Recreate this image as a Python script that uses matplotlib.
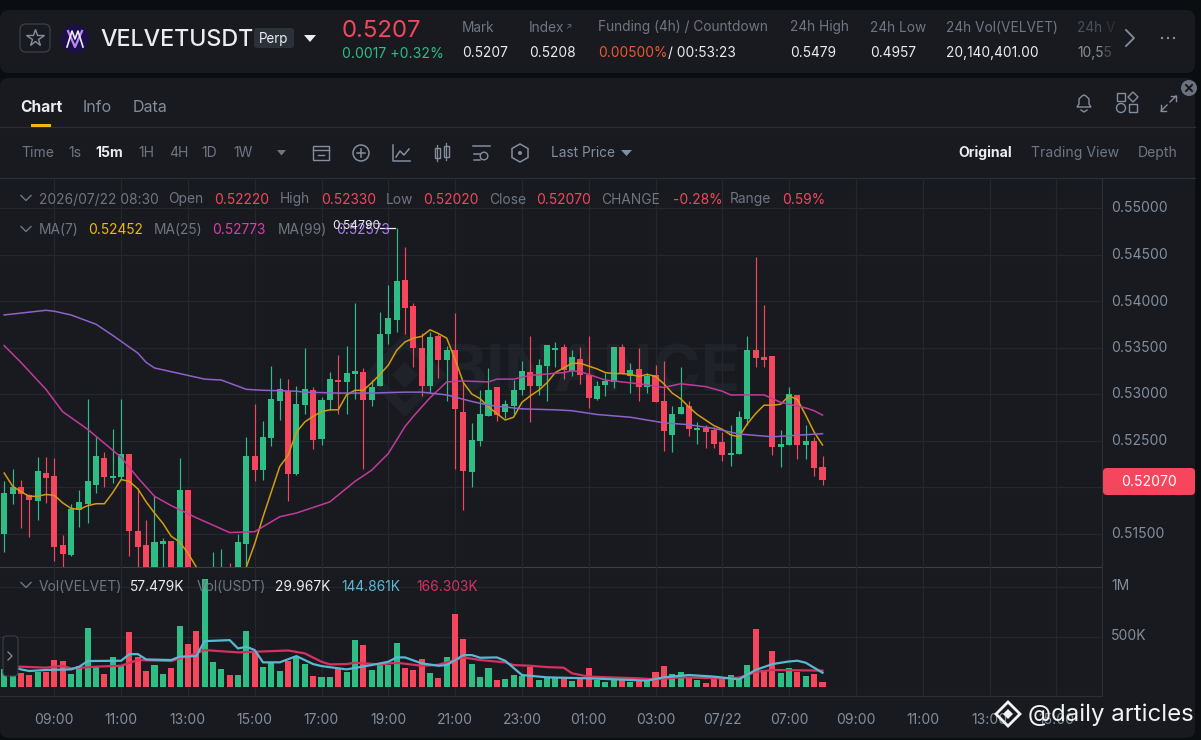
import matplotlib
matplotlib.use("Agg")
import matplotlib.pyplot as plt
from matplotlib.patches import FancyBboxPatch, Circle, Polygon, Rectangle
from matplotlib.ticker import FuncFormatter
from matplotlib.transforms import ScaledTranslation

plt.rcParams['font.family'] = ['Inter', 'DejaVu Sans']

opens = [.5149,.5192,.5200,.5191,.5185,.5215,.5212,.5138,.5127,.5175,.5182,.5202,.5231,.5210,.5211,.5236,.5153,.5138,.5105,.5139,
         .5142,.5105,.5197,.5100,.5080,.5085,.5095,.5105,.5105,.5139,.5233,.5218,.5253,.5293,.5303,.5214,.5288,.5304,.5252,.5294,
         .5315,.5313,.5322,.5324,.5294,.5309,.5364,.5380,.5423,.5395,.5350,.5309,.5362,.5337,.5347,.5281,.5216,.5250,.5276,.5307,
         .5281,.5287,.5304,.5324,.5309,.5330,.5347,.5350,.5325,.5338,.5320,.5295,.5310,.5313,.5351,.5319,.5327,.5307,.5320,.5292,
         .5256,.5278,.5287,.5261,.5263,.5261,.5248,.5234,.5235,.5273,.5347,.5340,.5341,.5243,.5245,.5299,.5245,.5250,.5222]
highs = [.5206,.5219,.5208,.5192,.5232,.5232,.5231,.5148,.5182,.5197,.5295,.5254,.5238,.5262,.5295,.5236,.5199,.5165,.5190,.5145,
         .5142,.5231,.5197,.5105,.5100,.5130,.5133,.5118,.5150,.5254,.5289,.5271,.5330,.5317,.5316,.5309,.5350,.5307,.5297,.5324,
         .5342,.5352,.5398,.5328,.5315,.5388,.5417,.5478,.5458,.5398,.5366,.5367,.5365,.5352,.5387,.5313,.5269,.5304,.5328,.5308,
         .5294,.5315,.5335,.5362,.5338,.5353,.5356,.5354,.5347,.5351,.5362,.5314,.5323,.5351,.5354,.5333,.5349,.5323,.5331,.5335,
         .5287,.5329,.5292,.5270,.5267,.5265,.5259,.5267,.5282,.5362,.5447,.5396,.5341,.5261,.5308,.5299,.5267,.5254,.5233]
lows =  [.5130,.5182,.5156,.5146,.5165,.5183,.5120,.5114,.5126,.5157,.5161,.5194,.5200,.5204,.5209,.5126,.5110,.5100,.5100,.5105,
         .5100,.5100,.5095,.5075,.5070,.5080,.5090,.5095,.5100,.5116,.5206,.5208,.5244,.5272,.5185,.5213,.5279,.5241,.5245,.5283,
         .5279,.5279,.5295,.5219,.5287,.5309,.5354,.5367,.5364,.5329,.5298,.5301,.5317,.5293,.5219,.5175,.5200,.5244,.5276,.5271,
         .5274,.5279,.5299,.5270,.5299,.5292,.5329,.5316,.5319,.5311,.5285,.5294,.5298,.5306,.5322,.5301,.5293,.5301,.5291,.5239,
         .5238,.5278,.5255,.5246,.5242,.5242,.5228,.5223,.5235,.5267,.5329,.5329,.5234,.5221,.5245,.5230,.5230,.5212,.5202]
closes =[.5194,.5200,.5192,.5186,.5217,.5210,.5135,.5128,.5176,.5184,.5206,.5233,.5211,.5212,.5235,.5153,.5135,.5105,.5141,.5142,
         .5105,.5197,.5100,.5080,.5085,.5100,.5105,.5100,.5141,.5233,.5218,.5254,.5295,.5305,.5214,.5289,.5305,.5251,.5294,.5316,
         .5313,.5323,.5325,.5294,.5308,.5365,.5382,.5422,.5393,.5349,.5309,.5361,.5337,.5347,.5284,.5217,.5251,.5278,.5304,.5277,
         .5289,.5304,.5325,.5309,.5331,.5353,.5349,.5326,.5340,.5320,.5296,.5309,.5314,.5351,.5322,.5326,.5308,.5319,.5291,.5260,
         .5279,.5286,.5262,.5263,.5259,.5246,.5234,.5237,.5275,.5347,.5339,.5337,.5243,.5246,.5300,.5245,.5249,.5220,.5207]
volume = [178,122,145,119,155,155,271,261,132,211,591,205,132,304,211,551,304,162,221,132,
          195,614,429,558,1073,251,182,119,122,564,353,205,244,165,264,297,234,109,99,99,
          178,149,475,419,168,221,221,442,191,172,277,145,96,297,733,479,228,99,188,73,
          83,119,112,205,73,96,96,89,66,83,191,73,56,79,79,56,66,63,152,211,
          135,152,99,73,40,92,99,122,99,218,581,172,360,145,188,155,115,129,57]

ma7 = [.5215,.5201,.5195,.5190,.5190,.5192,.5191,.5183,.5177,.5176,.5180,.5182,.5182,.5194,.5208,.5206,.5198,.5184,.5172,.5161,
       .5147,.5141,.5129,.5114,.5100,.5090,.5085,.5085,.5092,.5114,.5139,.5168,.5195,.5222,.5234,.5259,.5270,.5276,.5281,.5283,
       .5283,.5299,.5304,.5304,.5312,.5321,.5331,.5347,.5356,.5360,.5362,.5369,.5365,.5360,.5337,.5312,.5300,.5295,.5286,.5279,
       .5272,.5275,.5291,.5298,.5304,.5312,.5323,.5328,.5333,.5333,.5330,.5327,.5323,.5322,.5322,.5321,.5319,.5321,.5319,.5311,
       .5301,.5295,.5286,.5278,.5272,.5266,.5262,.5256,.5254,.5268,.5279,.5288,.5288,.5289,.5298,.5294,.5277,.5259,.52452]
ma25_idx = [0,2,5,7,10,14,16,18,20,23,27,30,33,35,36,39,42,44,46,48,49,51,53,55,58,59,61,63,67,68,69,72,74,76,79,81,84,86,87,89,91,93,96,97,98]
ma25 = [.5352,.5334,.5305,.5281,.5262,.5232,.5210,.5190,.5180,.5167,.5151,.5152,.5168,.5172,.5175,.5184,.5206,.5218,.5236,.5265,.5276,.5296,.5313,.5314,.5313,.5316,.5316,.5320,.5323,.5325,.5324,.5315,.5313,.5311,.5307,.5311,.5308,.5303,.5299,.5299,.5299,.5291,.5285,.5282,.52773]
ma99_idx = [0,5,6,8,11,13,16,17,18,21,24,26,29,31,35,36,40,44,48,50,53,56,58,62,66,68,71,75,79,82,85,88,92,98]
ma99 = [.5385,.5390,.5389,.5385,.5375,.5363,.5344,.5334,.5328,.5322,.5316,.5315,.5305,.5304,.5303,.5302,.5301,.5301,.5302,.5302,.5299,.5292,.5288,.5284,.5283,.5282,.5278,.5275,.5269,.5267,.5263,.5257,.5254,.52573]
vma1_idx = [0,2,3,5,8,9,10,14,15,16,17,20,21,23,24,27,28,29,30,31,33,35,37,38,41,44,46,47,48,50,52,53,55,56,57,59,60,62,65,70,75,77,79,82,85,88,90,92,94,95,96,98]
vma1 = [231,178,162,172,178,205,261,264,330,330,277,271,304,310,459,469,386,403,370,248,248,310,231,211,178,221,254,297,297,238,214,221,320,320,294,297,264,122,99,89,73,66,99,122,106,79,172,231,257,264,244,145]
vma2_idx = [0,2,5,7,8,11,14,16,20,23,24,28,34,36,38,39,41,42,45,47,50,52,55,57,60,61,63,65,67,68,70,76,78,81,86,88,90,92,98]
vma2 = [205,205,195,214,188,205,214,271,261,337,370,347,366,337,254,228,231,244,228,244,214,224,297,271,248,221,214,201,195,139,106,89,79,99,89,96,152,172,166]

price_ticks = [.515,.525,.530,.535,.540,.545,.550]
vol_ticks = [500, 1000]
vol_tick_labels = ['500K', '1M']
time_idx = [6,14,22,30,38,46,54,62,70,78,86,94,102,110,118,126]
time_labels = ['09:00','11:00','13:00','15:00','17:00','19:00','21:00','23:00','01:00','03:00','07/22','07:00','09:00','11:00','13:00','15:00']

BG = '#0b0e11'; CARD = '#181a20'; GRID = '#23272e'; LINE = '#2b3038'
GREEN = '#2ebd85'; RED = '#f6465d'; DIM = '#6f7682'; MID = '#848e9c'; WHITE = '#eaecef'
W, H = 1201, 740

fig = plt.figure(figsize=(W/100, H/100), dpi=100, facecolor=BG)

def axpx(x0, y0, x1, y1, **kw):
    return fig.add_axes([x0/W, 1-y1/H, (x1-x0)/W, (y1-y0)/H], **kw)

bg = axpx(0, 0, W, H, zorder=0)
bg.set_xlim(0, W); bg.set_ylim(H, 0); bg.axis('off')
for box in [(0, 10, 1195, 63), (0, 78, 1195, 660)]:
    bg.add_patch(FancyBboxPatch((box[0], box[1]), box[2], box[3], boxstyle='round,pad=0,rounding_size=9', fc=CARD, ec='none'))
bg.plot([0, 1195], [127, 127], color=LINE, lw=0.9)
bg.plot([0, 1195], [177.5, 177.5], color=LINE, lw=0.9)

def p_of(y): return .52 + (487-y)/9300
def i_of(x): return (x-4.2)/8.35
def v_of(y): return (687.3-y)/0.1006

def lift(axis_obj, px):
    for lb in axis_obj.get_ticklabels():
        lb.set_transform(lb.get_transform() + ScaledTranslation(0, px/100, fig.dpi_scale_trans))

ax = axpx(0, 178, 1102, 567, zorder=1)
ax.patch.set_alpha(0)
ax.set_xlim(i_of(0), i_of(1102)); ax.set_ylim(p_of(567), p_of(178))
ax.text(i_of(592), p_of(375), 'BINANCE', color='#1f2329', fontsize=47, fontweight='bold', ha='center', va='center', zorder=0)
ax.add_patch(Polygon([(i_of(405), p_of(340)), (i_of(440), p_of(375)), (i_of(405), p_of(410)), (i_of(370), p_of(375))], fc='none', ec='#1f2329', lw=7, zorder=0))
ax.add_patch(Polygon([(i_of(405), p_of(362)), (i_of(418), p_of(375)), (i_of(405), p_of(388)), (i_of(392), p_of(375))], fc='#1f2329', ec='none', zorder=0))

xs = list(range(len(opens)))
cols = [GREEN if c >= o else RED for o, c in zip(opens, closes)]
ax.vlines(xs, lows, highs, colors=cols, lw=0.85, zorder=2)
ax.bar(xs, [abs(c-o) for o, c in zip(opens, closes)], bottom=[min(o, c) for o, c in zip(opens, closes)],
       width=0.72, color=cols, zorder=3, linewidth=0)
ax.plot(xs, ma7, color='#d29d0e', lw=1.1, zorder=4)
ax.plot(ma25_idx, ma25, color='#c23a9a', lw=1.1, zorder=4)
ax.plot(ma99_idx, ma99, color='#8f62c9', lw=1.1, zorder=4)
ax.set_yticks(price_ticks)
ax.yaxis.tick_right()
ax.yaxis.set_major_formatter(FuncFormatter(lambda v, _: f'{v:.5f}'))
ax.tick_params(axis='y', length=0, pad=6.5, labelcolor=MID, labelsize=10)
ax.set_xticks(time_idx); ax.tick_params(axis='x', length=0, labelbottom=False)
ax.grid(True, color=GRID, lw=0.9, zorder=0)
ax.set_axisbelow(True)
ax.hlines([.520], i_of(0), i_of(1102), color=GRID, lw=0.9, zorder=0)
for s in ['top', 'left']:
    ax.spines[s].set_visible(False)
ax.spines['right'].set_color(LINE)
ax.spines['bottom'].set_color('#39404a')
lift(ax.yaxis, 1)

vx = axpx(0, 567, 1102, 696, zorder=1)
vx.patch.set_alpha(0)
vx.set_xlim(i_of(0), i_of(1102)); vx.set_ylim(v_of(696), v_of(567))
vx.bar(xs, volume, width=0.72, color=cols, linewidth=0, zorder=2)
vx.plot(vma2_idx, vma2, color='#d6325f', lw=1.6, zorder=3)
vx.plot(vma1_idx, vma1, color='#5ab9d2', lw=1.6, zorder=4)
vx.set_yticks(vol_ticks)
vx.set_yticklabels(vol_tick_labels)
vx.yaxis.tick_right()
vx.tick_params(axis='y', length=0, pad=6.5, labelcolor=MID, labelsize=10)
vx.set_xticks(time_idx); vx.set_xticklabels(time_labels)
vx.tick_params(axis='x', length=0, pad=12, labelcolor=MID, labelsize=10)
vx.grid(True, color=GRID, lw=0.9, zorder=0)
vx.set_axisbelow(True)
for s in ['top', 'left']:
    vx.spines[s].set_visible(False)
for s in ['right', 'bottom']:
    vx.spines[s].set_color(LINE)
lift(vx.yaxis, 2)

ov = axpx(0, 0, W, H, zorder=5)
ov.set_xlim(0, W); ov.set_ylim(H, 0); ov.axis('off'); ov.patch.set_alpha(0)

def t(x, y, s, c=DIM, px=14, **kw):
    kw.setdefault('ha', 'left'); kw.setdefault('va', 'center')
    ov.text(x, y, s, color=c, fontsize=px*0.72, **kw)

def chev(x, y, s=5, c=DIM):
    ov.plot([x-s, x, x+s], [y-s/2, y+s/2, y-s/2], color=c, lw=1.0)

# header
ov.add_patch(FancyBboxPatch((20, 24), 30, 28, boxstyle='round,pad=0,rounding_size=6', fc='none', ec='#3a404a', lw=0.9))
ov.plot(35, 38, marker='*', ms=13, mfc='none', mec=MID, mew=1.0)
ov.add_patch(Circle((75, 39), 14, fc='#1d0f4a', ec='none'))
ov.plot([68, 75, 82], [31, 47, 31], color='#b48cf0', lw=1.6)
ov.plot([67, 72, 75, 78, 83], [47, 31, 39, 31, 47], color='#f0e8ff', lw=1.2)
t(100, 40, 'VELVETUSDT', WHITE, 23.3, fontweight='medium')
ov.add_patch(FancyBboxPatch((254, 28), 40, 20, boxstyle='round,pad=0,rounding_size=3', fc='#2b3139', ec='none'))
t(274, 39, 'Perp', WHITE, 13.5, ha='center')
ov.add_patch(Polygon([(304, 35), (316, 35), (310, 42)], fc=WHITE, ec='none'))
t(342, 31, '0.5207', RED, 24)
t(342, 54.5, '0.0017 +0.32%', GREEN, 14)
for x, a, b in [(462, 'Mark', '0.5207'), (529, 'Index', '0.5208'), (790, '24h High', '0.5479'), (870, '24h Low', '0.4957'), (946, '24h Vol(VELVET)', '20,140,401.00')]:
    t(x, 27.5, a, DIM, 13.7)
    t(x, 53, b, WHITE, 13.7)
t(565, 26.5, '↗', DIM, 8)
t(598, 27.5, 'Funding (4h) / Countdown', DIM, 13.7)
t(598, 53, '0.00500%', '#f0562f', 13.7)
t(668, 53, '/ 00:53:23', WHITE, 13.7)
t(1077, 27.5, '24h V', '#4a505a', 13.7)
t(1077, 53, '10,55', '#8a8f96', 13.7)
ov.add_patch(Rectangle((1103, 15), 14, 52, fc=CARD, ec='none', zorder=6, alpha=0.55))
ov.plot([1126, 1134, 1126], [30, 38, 46], color=MID, lw=1.3)
for dx in [1162, 1168, 1174]:
    ov.add_patch(Circle((dx, 38), 1.2, fc=MID, ec='none'))

# tabs
t(20, 107, 'Chart', WHITE, 15.5, fontweight='bold')
t(83, 107, 'Info', MID, 16)
t(133, 107, 'Data', MID, 16)
ov.add_patch(Rectangle((31, 124), 20, 3, fc='#f0b90b', ec='none'))
# right icons
ov.add_patch(Polygon([(1077, 107), (1079, 104), (1079, 99), (1082, 96), (1084, 95), (1086, 96), (1089, 99), (1089, 104), (1091, 107)], fc='none', ec=MID, lw=1))
ov.plot([1081, 1084, 1087], [110, 112, 110], color=MID, lw=1)
ov.add_patch(Rectangle((1117, 93), 8, 8, fc='none', ec=MID, lw=1))
ov.add_patch(Polygon([(1133, 92), (1138, 97), (1133, 102), (1128, 97)], fc='none', ec=MID, lw=1))
ov.add_patch(Circle((1121, 108), 4.5, fc='none', ec=MID, lw=1))
ov.add_patch(Rectangle((1129, 104), 8, 8, fc='none', ec=MID, lw=1))
ov.plot([1161, 1167], [111, 105], color=MID, lw=1); ov.plot([1170, 1176], [102, 96], color=MID, lw=1)
ov.plot([1161, 1161, 1166], [105, 111, 111], color=MID, lw=1); ov.plot([1171, 1176, 1176], [96, 96, 101], color=MID, lw=1)
ov.add_patch(Circle((1189, 88), 8, fc='#6a7280', ec='none'))
ov.plot([1186, 1192], [85, 91], color='#111', lw=1.3); ov.plot([1186, 1192], [91, 85], color='#111', lw=1.3)

# toolbar
for x, s in [(21, 'Time'), (68, '1s'), (138, '1H'), (169, '4H'), (201, '1D'), (233, '1W')]:
    t(x, 153, s, DIM, 14)
t(95, 153, '15m', WHITE, 14, fontweight='bold')
ov.add_patch(Polygon([(277, 150), (286, 150), (281.5, 155.5)], fc=DIM, ec='none'))
ov.add_patch(Rectangle((313, 146), 16, 14, fc='none', ec=MID, lw=1))
ov.plot([313, 329], [150, 150], color=MID, lw=1)
ov.plot([318, 324], [155, 155], color=MID, lw=1)
ov.add_patch(Circle((361, 153), 8, fc='none', ec=MID, lw=1.1))
ov.plot([357, 365], [153, 153], color=MID, lw=1.1); ov.plot([361, 361], [149, 157], color=MID, lw=1.1)
ov.plot([393, 393, 410], [145, 161, 161], color=MID, lw=1.1)
ov.plot([396, 400, 404, 409], [157, 151, 155, 149], color=MID, lw=1.1)
for cx, top, bot in [(437, 148, 158), (446, 146, 157)]:
    ov.add_patch(Rectangle((cx-2.5, top), 5, bot-top, fc='none', ec=MID, lw=1))
    ov.plot([cx, cx], [top-3, bot+3], color=MID, lw=0.9)
ov.plot([473, 490], [146, 146], color=MID, lw=1.1); ov.plot([474, 480], [154, 154], color=MID, lw=1.1); ov.plot([474, 480], [160, 160], color=MID, lw=1.1)
ov.add_patch(Circle((484, 156), 3.8, fc='none', ec=MID, lw=1))
ov.add_patch(Polygon([(520, 144), (528, 148.5), (528, 157.5), (520, 162), (512, 157.5), (512, 148.5)], fc='none', ec=MID, lw=1.1))
ov.add_patch(Circle((520, 153), 2, fc=MID, ec='none'))
t(551, 153, 'Last Price', MID, 13.7)
ov.add_patch(Polygon([(621, 150), (632, 150), (626.5, 156)], fc=MID, ec='none'))
t(958, 153, 'Original', WHITE, 14, fontweight='bold')
t(1031, 153, 'Trading View', DIM, 14)
t(1138, 153, 'Depth', DIM, 14)

# legends
chev(26, 198); chev(26, 229); chev(26, 585)
for x, s, c in [(39, '2026/07/22 08:30', DIM), (168, 'Open', DIM), (214, '0.52220', RED), (280, 'High', DIM), (321, '0.52330', RED),
                (386, 'Low', DIM), (423, '0.52020', RED), (489, 'Close', DIM), (536, '0.52070', RED), (601, 'CHANGE', DIM),
                (673, '-0.28%', RED), (730, 'Range', DIM), (782, '0.59%', RED)]:
    t(x, 199.5, s, c, 13.8)
for x, s, c in [(39, 'MA(7)', DIM), (88, '0.52452', '#f0b90b'), (154, 'MA(25)', DIM), (212, '0.52773', '#d93fa6'), (278, 'MA(99)', DIM), (336, '0.52573', '#a97ff0')]:
    t(x, 230.5, s, c, 13.8)
for x, s, c in [(39, 'Vol(VELVET)', DIM), (130, '57.479K', WHITE), (197, 'Vol(USDT)', DIM), (275, '29.967K', WHITE), (341, '144.861K', '#5ab9d2'), (416, '166.303K', '#d6325f')]:
    t(x, 587, s, c, 13.8)
t(332, 226, '0.54790', WHITE, 12)
ov.plot([380, 395], [228, 228], color=WHITE, lw=0.9)

# last price tag
ov.add_patch(FancyBboxPatch((1103, 468), 92, 27, boxstyle='round,pad=0,rounding_size=4', fc=RED, ec='none'))
t(1149, 482, '0.52070', 'white', 14, ha='center')

# side handle
ov.add_patch(FancyBboxPatch((3, 636), 15, 40, boxstyle='round,pad=0,rounding_size=4', fc='#181a20', ec='#3a404a', lw=0.8))
ov.plot([8, 12, 8], [652, 656, 660], color=MID, lw=0.9)

# watermark
ov.add_patch(Polygon([(1008, 702), (1020, 714), (1008, 726), (996, 714)], fc='none', ec='#f2f2f2', lw=2))
ov.add_patch(Polygon([(1008, 709), (1013, 714), (1008, 719), (1003, 714)], fc='#f2f2f2', ec='none'))
t(1028, 715, '@daily articles', '#f2f2f2', 24)

fig.savefig('out.png', dpi=100, facecolor=BG)
